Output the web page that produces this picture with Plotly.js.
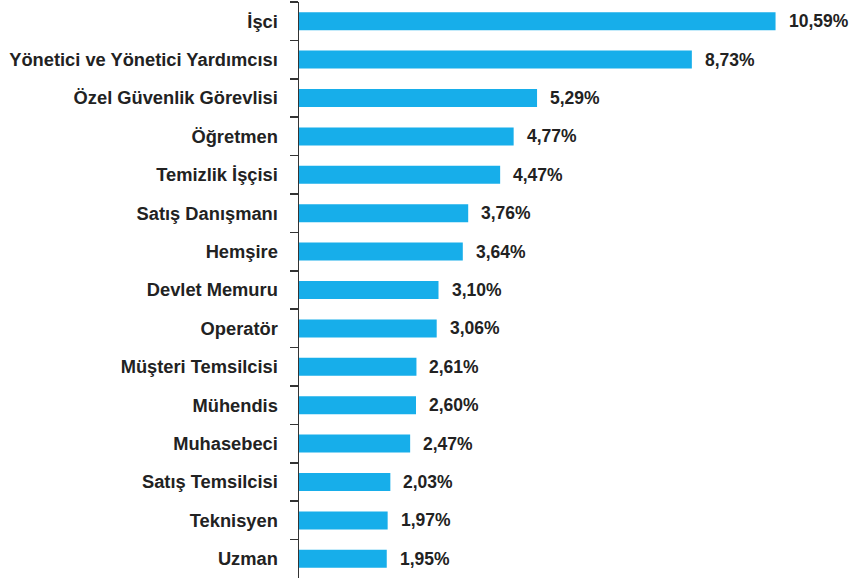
<!DOCTYPE html>
<html>
<head>
<meta charset="utf-8">
<script src="https://cdn.plot.ly/plotly-3.0.1.min.js"></script>
<style>html,body{margin:0;padding:0;background:#fff;}#chart{width:857px;height:578px;}</style>
</head>
<body>
<div id="chart"></div>
<script>
const categories = ["İşci","Yönetici ve Yönetici Yardımcısı","Özel Güvenlik Görevlisi","Öğretmen","Temizlik İşçisi","Satış Danışmanı","Hemşire","Devlet Memuru","Operatör","Müşteri Temsilcisi","Mühendis","Muhasebeci","Satış Temsilcisi","Teknisyen","Uzman"];
const values = [10.59,8.73,5.29,4.77,4.47,3.76,3.64,3.10,3.06,2.61,2.60,2.47,2.03,1.97,1.95];
const labels = values.map(v => v.toFixed(2).replace('.', ',') + '%');

const font = "Liberation Sans, Arial, Helvetica, sans-serif";
const trace = {
  type: 'bar', orientation: 'h',
  y: categories, x: values,
  marker: {color: '#17AEEA'},
  width: 0.47,
  hoverinfo: 'none'
};
const annotations = values.map((v, i) => ({
  x: v, y: categories[i], xref: 'x', yref: 'y',
  text: '<b>' + labels[i] + '</b>', showarrow: false,
  xanchor: 'left', xshift: 11,
  font: {family: font, size: 17.5, color: '#222'}
}));
const layout = {
  width: 857, height: 578,
  margin: {l: 299, r: 18, t: 2, b: 0},
  paper_bgcolor: '#fff', plot_bgcolor: '#fff',
  showlegend: false,
  xaxis: {range: [0, 12], visible: false, showgrid: false, zeroline: false, fixedrange: true},
  yaxis: {
    type: 'category', autorange: 'reversed',
    showline: true, linecolor: '#333', linewidth: 1.5,
    ticks: 'outside', tickson: 'boundaries', ticklen: 8, tickcolor: '#333', tickwidth: 1.5,
    showgrid: false, zeroline: false,
    tickfont: {family: font, size: 18.3, color: '#222', weight: 'bold'},
    ticklabelstandoff: 16,
    automargin: false
  },
  annotations: annotations
};
Plotly.newPlot('chart', [trace], layout, {displayModeBar: false, staticPlot: true});
</script>
</body>
</html>
